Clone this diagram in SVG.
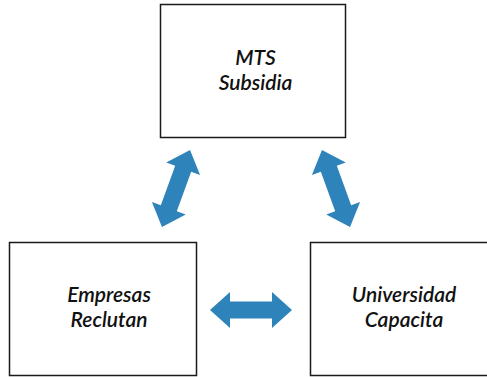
<svg xmlns="http://www.w3.org/2000/svg" xmlns:xlink="http://www.w3.org/1999/xlink" width="487" height="377" viewBox="0 0 487 377">
  <style>
    .box { fill: #ffffff; stroke: #1a1a1a; stroke-width: 1.5; }
    .label { font-family: Lato, "Open Sans", "Liberation Sans", sans-serif; font-style: italic; font-weight: 600; font-size: 21px; fill: #111111; text-anchor: middle; }
    .arrow { fill: #2e83ba; }
  </style>
  <defs>
    <!-- double-headed block arrow, 82 long, centred on the origin -->
    <path id="dbl-arrow" class="arrow" d="M -41 0 L -21 -18 L -21 -8.5 L 21 -8.5 L 21 -18 L 41 0 L 21 18 L 21 8.5 L -21 8.5 L -21 18 Z"/>
  </defs>
  <rect width="487" height="377" fill="#ffffff"/>

  <g id="connectors">
    <use xlink:href="#dbl-arrow" transform="translate(176 188.5) rotate(110)"/>
    <use xlink:href="#dbl-arrow" transform="translate(336 188.5) rotate(70)"/>
    <use xlink:href="#dbl-arrow" transform="translate(251 310)"/>
  </g>

  <g id="mts">
    <rect class="box" x="160.5" y="4.5" width="185" height="133"/>
    <text class="label" x="255.5" y="65">MTS</text>
    <text class="label" x="255.5" y="90">Subsidia</text>
  </g>

  <g id="empresas">
    <rect class="box" x="9.5" y="242.5" width="187" height="133"/>
    <text class="label" x="109" y="302">Empresas</text>
    <text class="label" x="109" y="327">Reclutan</text>
  </g>

  <g id="universidad">
    <rect class="box" x="310.5" y="242.5" width="190" height="133"/>
    <text class="label" x="404" y="302">Universidad</text>
    <text class="label" x="404" y="327">Capacita</text>
  </g>
</svg>
